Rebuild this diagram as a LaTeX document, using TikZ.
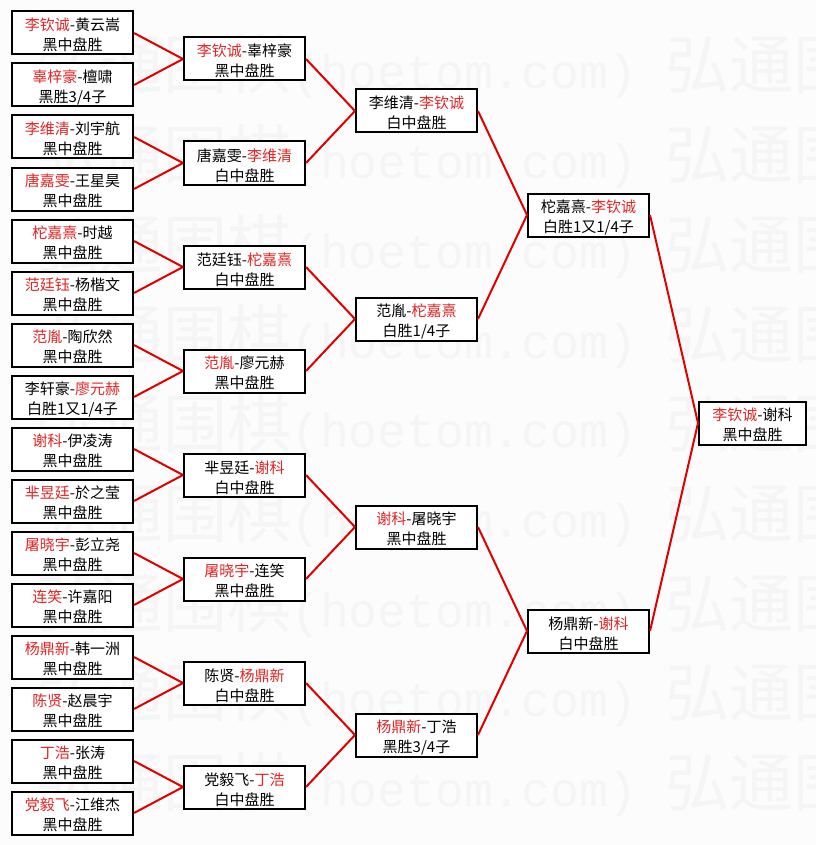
\documentclass[tikz,border=0pt]{standalone}
\usepackage{fontspec}
\setmainfont{Noto Sans CJK SC}
\newfontfamily\wmcjk{Noto Sans CJK SC}
\newfontfamily\wmlat{Liberation Mono}
\definecolor{wred}{RGB}{228,36,36}
\definecolor{lred}{RGB}{224,0,0}
\definecolor{bgc}{RGB}{252,252,252}
\definecolor{wmc}{RGB}{245,245,245}
\newcommand\winner[1]{\textcolor{wred}{#1}}
\newcommand\topstrut{\rule{0pt}{12.9pt}}
\newcommand\wmrow{{\wmcjk\fontsize{48}{48}\selectfont 弘通围棋}{\wmlat\fontsize{36}{36}\selectfont(hoetom.com) }{\wmcjk\fontsize{48}{48}\selectfont 弘通围棋}}
\begin{document}
\begin{tikzpicture}[x=0.75pt,y=-0.75pt,
  match/.style={draw=black, line width=1.5pt, fill=white, minimum width=90.75pt,
    minimum height=32.25pt, inner sep=0pt, align=center,
    font=\fontsize{11.25}{15}\selectfont},
  final/.style={match, minimum width=80.25pt},
  link/.style={draw=lred, line width=1.5pt},
  wm/.style={anchor=west, text=wmc, inner sep=0pt}]
\fill[bgc] (0,0) rectangle (816,845);
\useasboundingbox (0,0) rectangle (816,845);
% watermark
\begin{scope}
\clip (0,0) rectangle (816,845);
\foreach \k in {0,...,8}{
  \node[wm] (wm\k) at (35,{67+89.7*\k}) {\wmrow};
}
\end{scope}
% round 1
\node[match] (a1)  at (72.5,33)  {\topstrut\winner{李钦诚}-黄云嵩\\黑中盘胜};
\node[match] (a2)  at (72.5,85)  {\topstrut\winner{辜梓豪}-檀啸\\黑胜3/4子};
\node[match] (a3)  at (72.5,137) {\topstrut\winner{李维清}-刘宇航\\黑中盘胜};
\node[match] (a4)  at (72.5,189) {\topstrut\winner{唐嘉雯}-王星昊\\黑中盘胜};
\node[match] (a5)  at (72.5,241) {\topstrut\winner{柁嘉熹}-时越\\黑中盘胜};
\node[match] (a6)  at (72.5,293) {\topstrut\winner{范廷钰}-杨楷文\\黑中盘胜};
\node[match] (a7)  at (72.5,345) {\topstrut\winner{范胤}-陶欣然\\黑中盘胜};
\node[match] (a8)  at (72.5,397) {\topstrut 李轩豪-\winner{廖元赫}\\白胜1又1/4子};
\node[match] (a9)  at (72.5,449) {\topstrut\winner{谢科}-伊凌涛\\黑中盘胜};
\node[match] (a10) at (72.5,501) {\topstrut\winner{芈昱廷}-於之莹\\黑中盘胜};
\node[match] (a11) at (72.5,553) {\topstrut\winner{屠晓宇}-彭立尧\\黑中盘胜};
\node[match] (a12) at (72.5,605) {\topstrut\winner{连笑}-许嘉阳\\黑中盘胜};
\node[match] (a13) at (72.5,657) {\topstrut\winner{杨鼎新}-韩一洲\\黑中盘胜};
\node[match] (a14) at (72.5,709) {\topstrut\winner{陈贤}-赵晨宇\\黑中盘胜};
\node[match] (a15) at (72.5,761) {\topstrut\winner{丁浩}-张涛\\黑中盘胜};
\node[match] (a16) at (72.5,813) {\topstrut\winner{党毅飞}-江维杰\\黑中盘胜};
% round 2
\node[match] (b1) at (244.5,59)  {\topstrut\winner{李钦诚}-辜梓豪\\黑中盘胜};
\node[match] (b2) at (244.5,163) {\topstrut 唐嘉雯-\winner{李维清}\\白中盘胜};
\node[match] (b3) at (244.5,267) {\topstrut 范廷钰-\winner{柁嘉熹}\\白中盘胜};
\node[match] (b4) at (244.5,371) {\topstrut\winner{范胤}-廖元赫\\黑中盘胜};
\node[match] (b5) at (244.5,475) {\topstrut 芈昱廷-\winner{谢科}\\白中盘胜};
\node[match] (b6) at (244.5,579) {\topstrut\winner{屠晓宇}-连笑\\黑中盘胜};
\node[match] (b7) at (244.5,683) {\topstrut 陈贤-\winner{杨鼎新}\\白中盘胜};
\node[match] (b8) at (244.5,787) {\topstrut 党毅飞-\winner{丁浩}\\白中盘胜};
% round 3
\node[match] (c1) at (416.5,111) {\topstrut 李维清-\winner{李钦诚}\\白中盘胜};
\node[match] (c2) at (416.5,319) {\topstrut 范胤-\winner{柁嘉熹}\\白胜1/4子};
\node[match] (c3) at (416.5,527) {\topstrut\winner{谢科}-屠晓宇\\黑中盘胜};
\node[match] (c4) at (416.5,735) {\topstrut\winner{杨鼎新}-丁浩\\黑胜3/4子};
% round 4
\node[match] (d1) at (588.5,215) {\topstrut 柁嘉熹-\winner{李钦诚}\\白胜1又1/4子};
\node[match] (d2) at (588.5,631) {\topstrut 杨鼎新-\winner{谢科}\\白中盘胜};
% final
\node[final] (e) at (752.5,423) {\topstrut\winner{李钦诚}-谢科\\黑中盘胜};
% connectors
\foreach \p/\x/\y in {b1/a1/a2, b2/a3/a4, b3/a5/a6, b4/a7/a8, b5/a9/a10, b6/a11/a12, b7/a13/a14, b8/a15/a16,
  c1/b1/b2, c2/b3/b4, c3/b5/b6, c4/b7/b8, d1/c1/c2, d2/c3/c4, e/d1/d2}{
  \draw[link] (\x.east) -- (\p.west);
  \draw[link] (\y.east) -- (\p.west);
}
\end{tikzpicture}
\end{document}
